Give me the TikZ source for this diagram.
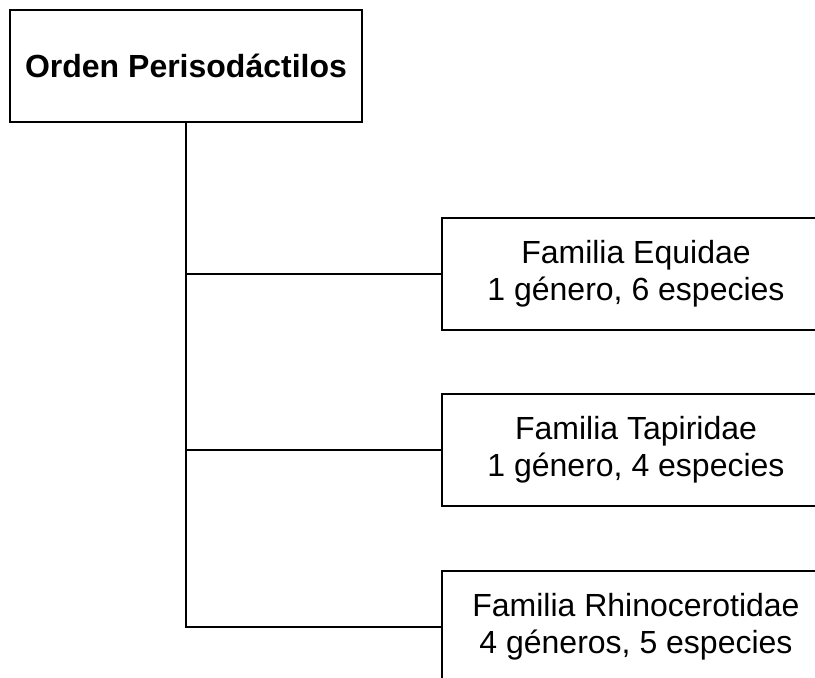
\documentclass[tikz,border=0pt]{standalone}
\usepackage{fontspec}
\setmainfont{Liberation Sans}
\begin{document}
\begin{tikzpicture}[x=1pt,y=1pt,
  box/.style={draw=black, line width=1.5pt, inner sep=0pt, outer sep=0pt, align=center},
  rootbox/.style={box, minimum width=352pt, minimum height=112pt, font=\fontsize{32}{37}\selectfont\bfseries},
  fambox/.style={box, minimum width=388pt, minimum height=112pt, font=\fontsize{32}{37}\selectfont},
  link/.style={draw=black, line width=1.5pt}]
\clip (0,0) rectangle (815,-678);
\node[rootbox] (root) at (186,-66) {Orden Perisodáctilos};
\node[fambox] (equ) at (636,-274) {Familia Equidae\\1 género, 6 especies};
\node[fambox] (tap) at (636,-450) {Familia Tapiridae\\1 género, 4 especies};
\node[fambox] (rhi) at (636,-627) {Familia Rhinocerotidae\\4 géneros, 5 especies};
\draw[link] (root.south) -- (root.south |- rhi.west) -- (rhi.west);
\draw[link] (root.south |- equ.west) -- (equ.west);
\draw[link] (root.south |- tap.west) -- (tap.west);
\end{tikzpicture}
\end{document}
